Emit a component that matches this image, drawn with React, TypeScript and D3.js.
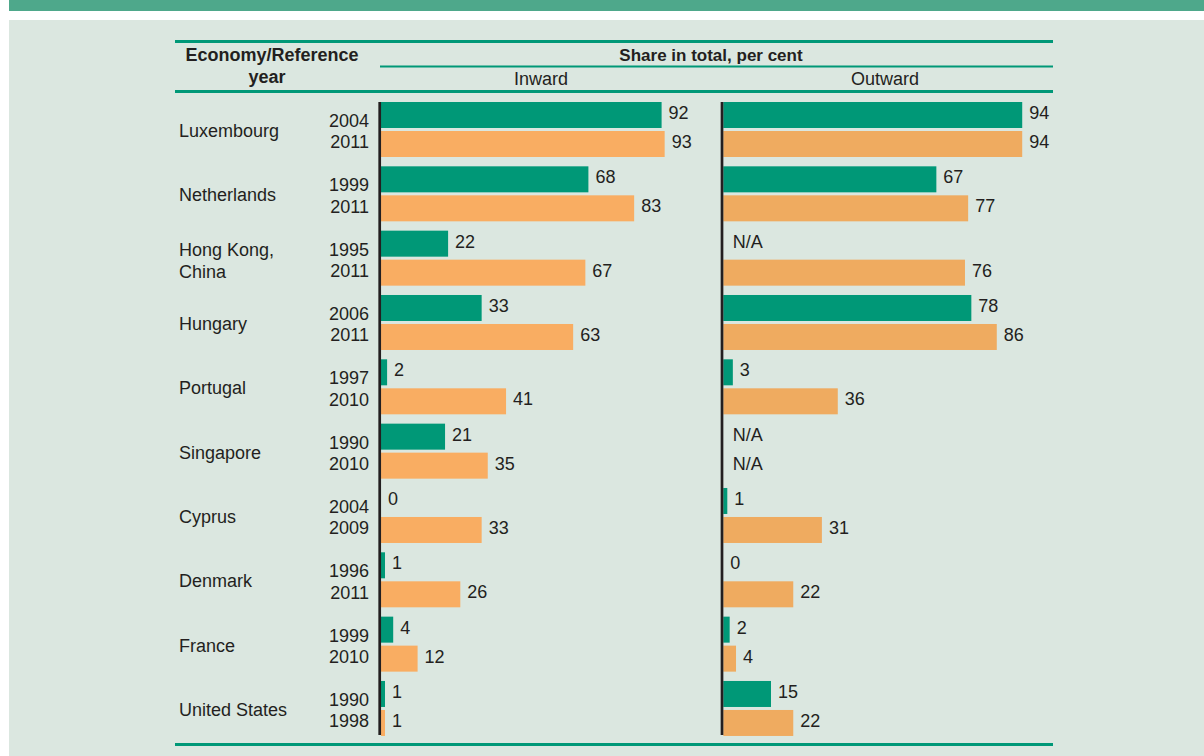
import React from "react";
import * as d3 from "d3";

const economies = ["Luxembourg", "Netherlands", "Hong Kong, China", "Hungary", "Portugal", "Singapore", "Cyprus", "Denmark", "France", "United States"];
const economyLines = [["Luxembourg"], ["Netherlands"], ["Hong Kong,", "China"], ["Hungary"], ["Portugal"], ["Singapore"], ["Cyprus"], ["Denmark"], ["France"], ["United States"]];
const earlyYears = ["2004", "1999", "1995", "2006", "1997", "1990", "2004", "1996", "1999", "1990"];
const lateYears = ["2011", "2011", "2011", "2011", "2010", "2010", "2009", "2011", "2010", "1998"];
const inwardEarly: (number | null)[] = [92, 68, 22, 33, 2, 21, 0, 1, 4, 1];
const inwardLate: (number | null)[] = [93, 83, 67, 63, 41, 35, 33, 26, 12, 1];
const outwardEarly: (number | null)[] = [94, 67, null, 78, 3, null, 1, 0, 2, 15];
const outwardLate: (number | null)[] = [94, 77, 76, 86, 36, null, 31, 22, 4, 22];

const W = 1204;
const H = 756;
const FONT = "'Liberation Sans', Arial, Helvetica, sans-serif";
const FS = 18;
const TEXT = "#231f20";
const GREEN = "#009877";
const ORANGE_IN = "#f9ad62";
const ORANGE_OUT = "#efab60";
const BG = "#dbe7e0";
const BAND = "#4ea88b";

const yGroup = d3.scaleBand<string>().domain(economies).range([99, 99 + 64.33 * economies.length]).paddingInner(0).paddingOuter(0);
const yInner = d3.scaleBand<string>().domain(["early", "late"]).range([3, 58]).paddingInner(0.1034).paddingOuter(0);

const inAxisX = 379.7;
const outAxisX = 722;
const xIn = d3.scaleLinear().domain([0, 100]).range([381, 381 + 305]);
const xOut = d3.scaleLinear().domain([0, 100]).range([723.3, 723.3 + 318]);

type Panel = { scale: d3.ScaleLinear<number, number>; early: (number | null)[]; late: (number | null)[]; orange: string };
const panels: Panel[] = [
  { scale: xIn, early: inwardEarly, late: inwardLate, orange: ORANGE_IN },
  { scale: xOut, early: outwardEarly, late: outwardLate, orange: ORANGE_OUT },
];

export default function App() {
  const bh = yInner.bandwidth();
  return (
    <svg width={W} height={H} style={{ position: "fixed", left: 0, top: 0, display: "block" }} fontFamily={FONT}>
      <rect x={0} y={0} width={W} height={H} fill="#ffffff" />
      <rect x={9} y={0} width={W - 9} height={11} fill={BAND} />
      <rect x={9} y={20} width={W - 9} height={H - 20} fill={BG} />

      {/* header */}
      <rect x={175} y={40} width={878} height={3} fill={GREEN} />
      <rect x={380} y={65.5} width={673} height={2} fill={GREEN} />
      <rect x={175} y={90} width={878} height={3} fill={GREEN} />
      <rect x={175} y={743} width={878} height={3} fill={GREEN} />
      <text x={272} y={61} textAnchor="middle" fontWeight="bold" fontSize={FS} fill={TEXT}>Economy/Reference</text>
      <text x={267} y={83} textAnchor="middle" fontWeight="bold" fontSize={FS} fill={TEXT}>year</text>
      <text x={711} y={61} textAnchor="middle" fontWeight="bold" fontSize={FS - 1} fill={TEXT}>Share in total, per cent</text>
      <text x={541} y={85} textAnchor="middle" fontSize={FS} fill={TEXT}>Inward</text>
      <text x={885} y={85} textAnchor="middle" fontSize={FS} fill={TEXT}>Outward</text>

      {economies.map((e, i) => {
        const g0 = yGroup(e) as number;
        const t1 = g0 + (yInner("early") as number);
        const t2 = g0 + (yInner("late") as number);
        const lines = economyLines[i];
        return (
          <g key={e}>
            {lines.length === 1 ? (
              <text x={179} y={g0 + 38} fontSize={FS} fill={TEXT}>{lines[0]}</text>
            ) : (
              lines.map((l, k) => (
                <text key={k} x={179} y={g0 + 28 + k * 22} fontSize={FS} fill={TEXT}>{l}</text>
              ))
            )}
            <text x={369} y={t1 + 25} textAnchor="end" fontSize={FS} fill={TEXT}>{earlyYears[i]}</text>
            <text x={369} y={t2 + 17.5} textAnchor="end" fontSize={FS} fill={TEXT}>{lateYears[i]}</text>
            {panels.map((p, pi) => {
              const x0 = p.scale(0);
              const items = [
                { v: p.early[i], top: t1, fill: GREEN },
                { v: p.late[i], top: t2, fill: p.orange },
              ];
              return items.map((it, k) => {
                if (it.v === null) {
                  return (
                    <text key={`${pi}-${k}`} x={x0 + 9.5} y={it.top + 17} fontSize={FS} fill={TEXT}>N/A</text>
                  );
                }
                const w = it.v > 0 ? Math.max(p.scale(it.v) - x0, 4) : 0;
                return (
                  <g key={`${pi}-${k}`}>
                    {w > 0 && <rect x={x0} y={it.top} width={w} height={bh} fill={it.fill} />}
                    <text x={x0 + w + 7} y={it.top + 17} fontSize={FS} fill={TEXT}>{String(it.v)}</text>
                  </g>
                );
              });
            })}
          </g>
        );
      })}

      <rect x={inAxisX - 1.35} y={102} width={2.7} height={633} fill={TEXT} />
      <rect x={outAxisX - 1.35} y={102} width={2.7} height={633} fill={TEXT} />
    </svg>
  );
}
